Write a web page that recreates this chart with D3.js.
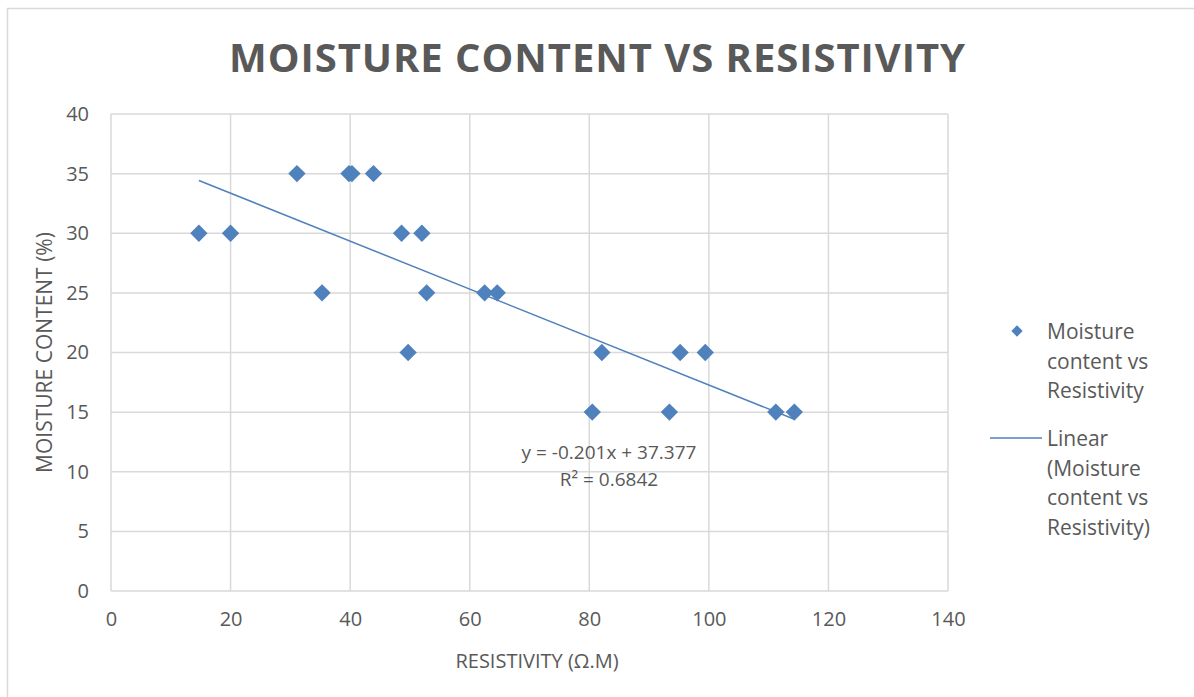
<!DOCTYPE html>
<html>
<head>
<meta charset="utf-8">
<script src="https://cdn.jsdelivr.net/npm/d3@7"></script>
<style>
  body { margin: 0; background: #fff; }
  text { font-family: "Open Sans", sans-serif; fill: #595959; }
</style>
</head>
<body>
<div id="chart"></div>
<script>
let w = 1194,
    h = 697;

let margin = { top: 114, left: 111, right: 246, bottom: 106 };
let width = w - margin.left - margin.right;
let height = h - margin.top - margin.bottom;

// data
let resistivity = [14.7, 20.0, 31.1, 35.3, 39.8, 40.3, 43.9, 48.6, 49.7, 52.0,
                   52.8, 62.5, 64.6, 80.5, 82.1, 93.4, 95.2, 99.4, 111.2, 114.3];
let moisture = [30, 30, 35, 25, 35, 35, 35, 30, 20, 30,
                25, 25, 25, 15, 20, 15, 20, 20, 15, 15];
let xTicks = [0, 20, 40, 60, 80, 100, 120, 140];
let yTicks = [0, 5, 10, 15, 20, 25, 30, 35, 40];
let slope = -0.201,
    intercept = 37.377;

let blue = "#4F81BD";
let grid = "#d9d9d9";

let svg = d3.select("#chart")
            .append("svg")
            .attr("width", w)
            .attr("height", h);

// outer chart border (only top/left are in frame)
svg.append("rect")
   .attr("x", 7.5).attr("y", 8.5)
   .attr("width", w).attr("height", h)
   .attr("fill", "none")
   .attr("stroke", grid)
   .attr("stroke-width", 1.5);

let x = d3.scaleLinear().domain([0, 140]).range([0, width]);
let y = d3.scaleLinear().domain([0, 40]).range([height, 0]);

let g = svg.append("g")
           .attr("transform", "translate(" + margin.left + "," + margin.top + ")");

// gridlines
g.selectAll(".hgrid")
 .data(yTicks)
 .enter()
 .append("line")
 .attr("x1", 0).attr("x2", width)
 .attr("y1", d => y(d)).attr("y2", d => y(d))
 .attr("stroke", grid).attr("stroke-width", 1.5);

g.selectAll(".vgrid")
 .data(xTicks)
 .enter()
 .append("line")
 .attr("y1", 0).attr("y2", height)
 .attr("x1", d => x(d)).attr("x2", d => x(d))
 .attr("stroke", grid).attr("stroke-width", 1.5);

// axes (labels only)
let xAxis = g.append("g")
             .attr("transform", "translate(0," + height + ")")
             .call(d3.axisBottom(x).tickValues(xTicks).tickSize(0).tickPadding(21));
let yAxis = g.append("g")
             .call(d3.axisLeft(y).tickValues(yTicks).tickSize(0).tickPadding(22));
[xAxis, yAxis].forEach(a => {
  a.select(".domain").remove();
  a.selectAll("text")
   .attr("fill", "#595959")
   .style("font-size", "20px")
   .style("font-family", "'Open Sans', sans-serif");
});

// trendline
let xr = d3.extent(resistivity);
g.append("line")
 .attr("x1", x(xr[0])).attr("y1", y(slope * xr[0] + intercept))
 .attr("x2", x(xr[1])).attr("y2", y(slope * xr[1] + intercept))
 .attr("stroke", blue)
 .attr("stroke-width", 1.5);

// points
let diamond = d3.symbol().type(d3.symbolSquare).size(150);
g.selectAll(".pt")
 .data(resistivity.map((r, i) => [r, moisture[i]]))
 .enter()
 .append("path")
 .attr("d", diamond)
 .attr("transform", d => "translate(" + x(d[0]) + "," + y(d[1]) + ") rotate(45)")
 .attr("fill", blue);

// equation label
let eq = svg.append("text")
            .attr("text-anchor", "middle")
            .style("font-size", "19px");
eq.append("tspan").attr("x", 609).attr("y", 459).text("y = -0.201x + 37.377");
eq.append("tspan").attr("x", 609).attr("y", 486).text("R² = 0.6842");

// title
svg.append("text")
   .attr("x", 597)
   .attr("y", 72)
   .attr("text-anchor", "middle")
   .attr("textLength", 736)
   .attr("lengthAdjust", "spacing")
   .style("font-size", "40px")
   .style("font-weight", "bold")
   .text("MOISTURE CONTENT VS RESISTIVITY");

// axis titles
svg.append("text")
   .attr("x", 537)
   .attr("y", 668)
   .attr("text-anchor", "middle")
   .style("font-size", "20px")
   .text("RESISTIVITY (Ω.M)");

svg.append("text")
   .attr("transform", "translate(52," + (margin.top + height / 2) + ") rotate(-90)")
   .attr("text-anchor", "middle")
   .style("font-size", "21px")
   .text("MOISTURE CONTENT (%)");

// legend
let legend = svg.append("g");
legend.append("path")
      .attr("d", d3.symbol().type(d3.symbolSquare).size(64))
      .attr("transform", "translate(1017,331) rotate(45)")
      .attr("fill", blue);
let l1 = legend.append("text").style("font-size", "21px");
["Moisture", "content vs", "Resistivity"].forEach((t, i) => {
  l1.append("tspan").attr("x", 1047).attr("y", 339 + i * 29.5).text(t);
});
legend.append("line")
      .attr("x1", 990).attr("x2", 1042)
      .attr("y1", 438).attr("y2", 438)
      .attr("stroke", blue).attr("stroke-width", 1.5);
let l2 = legend.append("text").style("font-size", "21px");
["Linear", "(Moisture", "content vs", "Resistivity)"].forEach((t, i) => {
  l2.append("tspan").attr("x", 1047).attr("y", 446 + i * 29.5).text(t);
});
</script>
</body>
</html>
